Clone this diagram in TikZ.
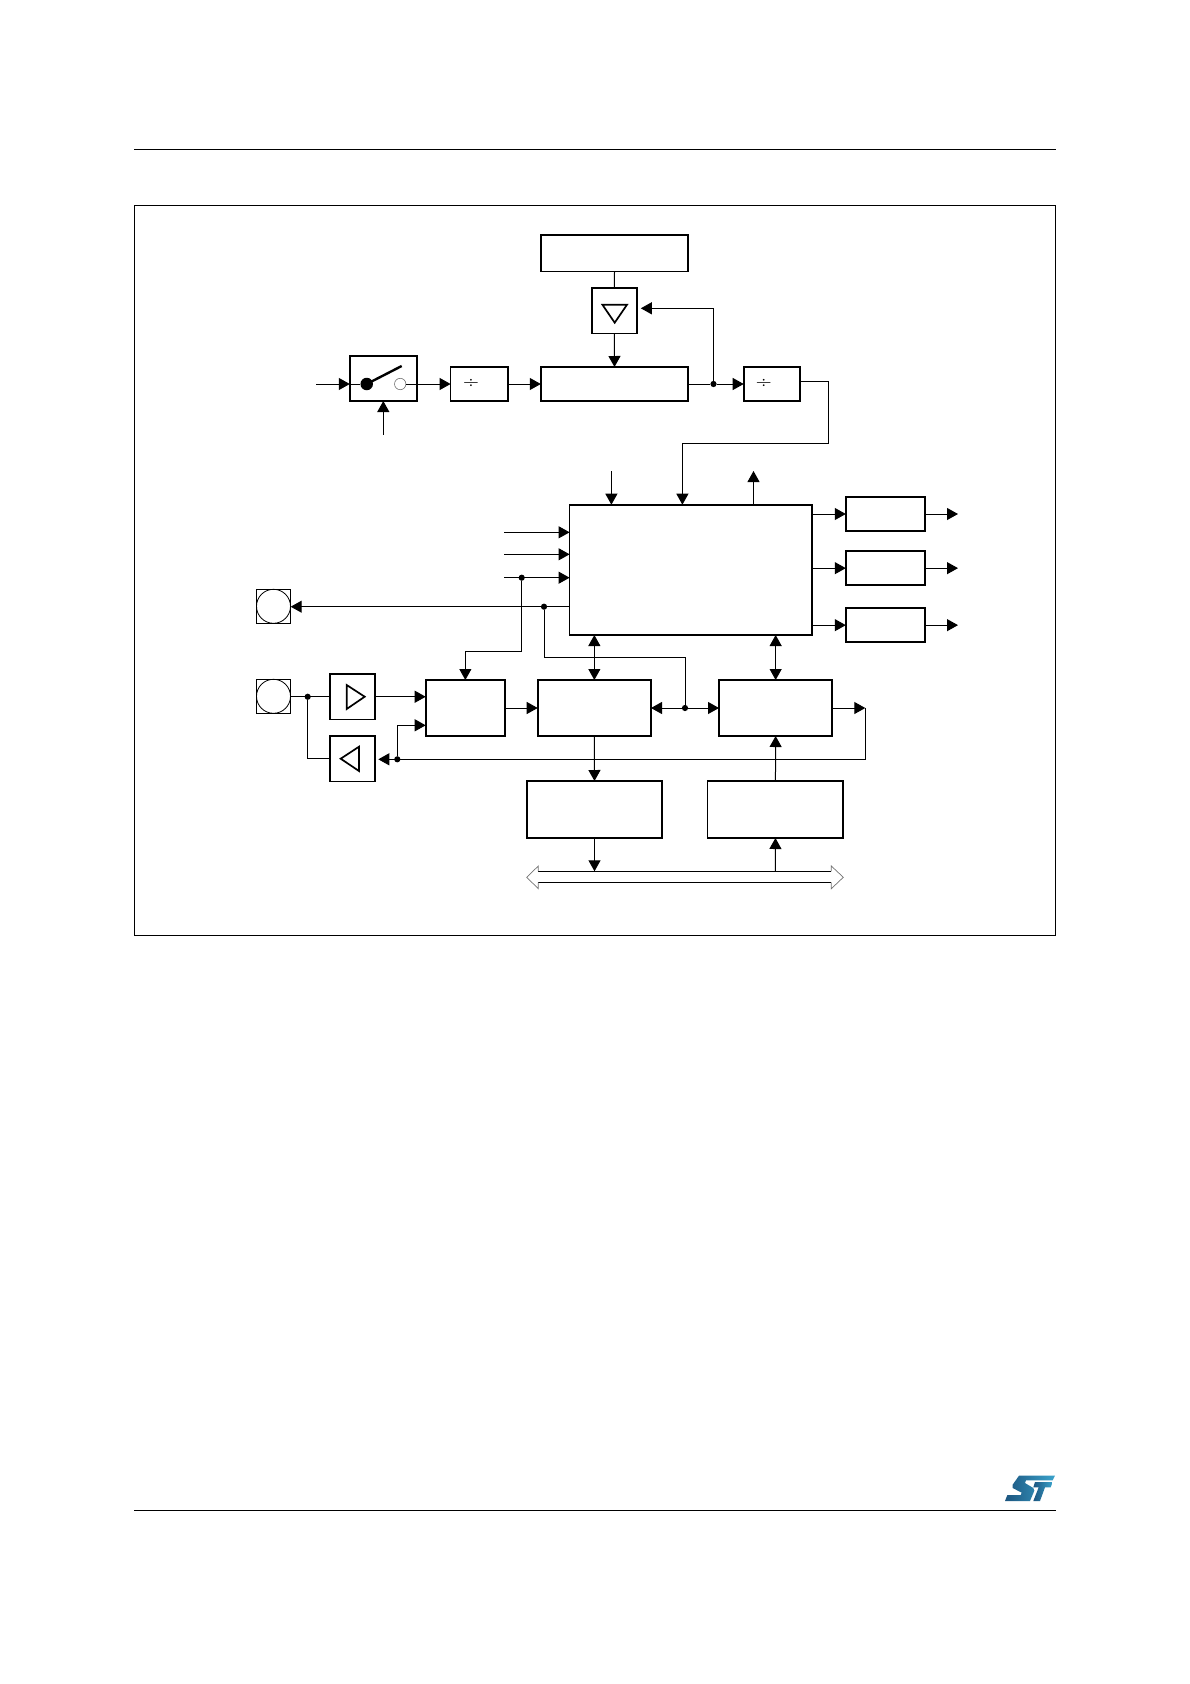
\documentclass[tikz,border=0pt]{standalone}
\usetikzlibrary{arrows.meta,calc}
\definecolor{stdark}{HTML}{1C557F}
\definecolor{stlight}{HTML}{3BA3CC}
\tikzset{
  blockbox/.style={draw=black,line width=1.7pt,inner sep=0pt,outer sep=0pt,rectangle},
  padbox/.style={draw=black,line width=0.9pt,inner sep=0pt,outer sep=0pt,rectangle},
  padring/.style={draw=black,line width=0.8pt,inner sep=0pt,outer sep=0pt,circle,minimum size=34pt},
  wire/.style={line width=1pt,draw=black},
  arr/.style={wire,-{Triangle[length=11pt,width=12pt]}},
  darr/.style={wire,{Triangle[length=11pt,width=12pt]}-{Triangle[length=11pt,width=12pt]}},
  jdot/.style={circle,fill=black,inner sep=0pt,outer sep=0pt,minimum size=6.2pt},
  ampglyph/.style={draw=black,line width=1.7pt,line join=miter},
  divsign/.style={inner sep=0pt,font=\fontsize{22}{22}\selectfont},
  rulel/.style={draw=black,line width=0.9pt},
  frameb/.style={draw=black,line width=0.9pt},
  sbig/.style={circle,fill=black,inner sep=0pt,outer sep=0pt,minimum size=12.5pt},
  sopen/.style={circle,draw=black!55,line width=0.6pt,inner sep=0pt,outer sep=0pt,minimum size=11.4pt}
}
\newcommand\rbox[6]{\node[#1,minimum width={(#5-#3)*1pt},minimum height={(#6-#4)*1pt}] (#2) at ({(#3+#5)/2},{(#4+#6)/2}) {};}
\begin{document}
\begin{tikzpicture}[x=1pt,y=-1pt]
\useasboundingbox (0,0) rectangle (1190,1684);
% page rules and frame
\draw[rulel] (134,149.5) -- (1056,149.5);
\draw[rulel] (134,1510.5) -- (1056,1510.5);
\draw[frameb] (134.5,205.5) rectangle (1055.5,935.5);
% logo
\begin{scope}[shift={(1000,1470)},x=0.3333pt,y=-0.3333pt]
\shade[left color=stdark,right color=stlight] (57,17)--(165,17)--(158,31)--(78,31)--(75,39)--(100,54)--(103,62)--(90,93)--(15,93)--(22,75)--(62,75)--(65,68)--(38,54)--(38,44)--cycle;
\shade[left color=stdark,right color=stlight] (105,36)--(158,36)--(152,52)--(135,52)--(120,93)--(100,93)--(116,52)--(100,52)--cycle;
\end{scope}
% blocks
\rbox{blockbox}{top}{540.8}{235}{688.2}{271.5}
\rbox{blockbox}{regamp}{591.8}{288}{637}{333.5}
\rbox{blockbox}{pll}{540.8}{367}{688.2}{401}
\rbox{blockbox}{sw}{349.8}{356}{417}{401}
\rbox{blockbox}{diva}{450.6}{367}{508}{401}
\rbox{blockbox}{divb}{743.7}{367}{800}{401}
\rbox{blockbox}{main}{569.6}{504.7}{812.3}{635}
\rbox{blockbox}{ra}{845.8}{497}{924.8}{531}
\rbox{blockbox}{rb}{845.8}{551}{924.8}{585.3}
\rbox{blockbox}{rc}{845.8}{608}{924.8}{642.3}
\rbox{blockbox}{ampa}{329.7}{674}{375.3}{719.5}
\rbox{blockbox}{ampb}{329.7}{736}{375.3}{781.5}
\rbox{blockbox}{A}{425.7}{680}{505}{736}
\rbox{blockbox}{B}{537.7}{680}{651}{736}
\rbox{blockbox}{C}{719}{680}{832.3}{736}
\rbox{blockbox}{D}{526.7}{781}{662.3}{838}
\rbox{blockbox}{E}{707.6}{781}{843.3}{838}
\rbox{padbox}{pada}{256.3}{589.3}{290.7}{623.3}
\rbox{padbox}{padb}{256.3}{679.3}{290.7}{713.3}
\node[padring] (ringa) at (pada) {};
\node[padring] (ringb) at (padb) {};
% glyphs
\draw[ampglyph] (602.4,304.7) -- (627,304.7) -- (614.7,322.7) -- cycle;
\draw[ampglyph] (346.7,685) -- (364.7,696.7) -- (346.7,709) -- cycle;
\draw[ampglyph] (359,746.7) -- (340.7,758.7) -- (359,771) -- cycle;
\node[divsign] (dsa) at (471,384) {÷};
\node[divsign] (dsb) at (763.7,384) {÷};
% switch
\node[sbig] (swin) at (366.7,384) {};
\node[sopen] (swout) at (400.2,384) {};
\coordinate (lever) at (401.7,366);
\draw[line width=2.4pt] (swin.center) -- (lever);
% free ends
\coordinate (inS) at (316,384);
\coordinate (inSc) at (383.3,434.7);
\coordinate (inM) at (611.4,471);
\coordinate (outM) at (753.5,471);
\coordinate (ia) at (504,532.3);
\coordinate (ib) at (504,554.3);
\coordinate (ic) at (504,577.7);
\coordinate (oa) at (958,514);
\coordinate (ob) at (958,568.15);
\coordinate (oc) at (958,625.15);
% junctions
\node[jdot] (j1) at (713.5,384) {};
\node[jdot] (j2) at (521.7,577.7) {};
\node[jdot] (j3) at (544,606.7) {};
\node[jdot] (j4) at (307.7,696.75) {};
\node[jdot] (j5) at (685,708) {};
\node[jdot] (j6) at (397.3,759.3) {};
% bus
\coordinate (busL) at (594.7,871.3);
\coordinate (busR) at (775.3,871.3);
\draw[wire] (538.3,871.3) -- (831.3,871.3);
\draw[wire] (538.3,882.3) -- (831.3,882.3);
\draw[line width=0.7pt,draw=black!55] (538.3,871.3) -- (538.3,866) -- (526.7,877.3) -- (538.3,888.7) -- (538.3,882.3);
\draw[line width=0.7pt,draw=black!55] (831.3,871.3) -- (831.3,866) -- (843.3,877.3) -- (831.3,888.7) -- (831.3,882.3);
% top connectors
\draw[wire] (top.south) -- (regamp.north);
\draw[arr] (regamp.south) -- (pll.north);
\draw[arr] (inS) -- (inS -| sw.west);
\draw[wire] (sw.west |- swin) -- (swin);
\draw[arr] (inSc) -- (inSc |- sw.south);
\draw[arr] (swout.east) -- (diva.west);
\draw[arr] (diva.east) -- (pll.west);
\draw[wire] (pll.east) -- (j1);
\draw[arr] (j1) -- (divb.west);
\coordinate (fb) at (640.8,308.3);
\draw[arr] (j1) |- (fb);
\coordinate (dv1) at (800,381.3);
\draw[arr] (dv1) -- (828.6,381.3) -- (828.6,443.3) -- (682.4,443.3) -- (682.4,504.7);
\draw[arr] (inM) -- (inM |- main.north);
\draw[arr] (outM |- main.north) -- (outM);
% main inputs
\draw[arr] (ia) -- (ia -| main.west);
\draw[arr] (ib) -- (ib -| main.west);
\draw[arr] (ic) -- (ic -| main.west);
\draw[arr] (main.west |- j3) -- (pada.east |- j3);
\draw[arr] (j2) -- (521.7,651.3) -- (A.north |- 0,651.3) -- (A.north);
\draw[wire] (j3) -- (544,657.3) -- (685,657.3) -- (j5);
% main outputs
\draw[arr] (main.east |- ra.west) -- (ra.west);
\draw[arr] (main.east |- rb.west) -- (rb.west);
\draw[arr] (main.east |- rc.west) -- (rc.west);
\draw[arr] (ra.east) -- (oa);
\draw[arr] (rb.east) -- (ob);
\draw[arr] (rc.east) -- (oc);
% lower connectors
\draw[darr] (main.south -| B.north) -- (B.north);
\draw[darr] (main.south -| C.north) -- (C.north);
\draw[wire] (padb.east |- j4) -- (ampa.west |- j4);
\draw[wire] (j4) |- (ampb.west);
\draw[arr] (ampa.east) -- (A.west |- ampa.east);
\draw[arr] (A.east) -- (B.west);
\draw[arr] (j5) -- (B.east);
\draw[arr] (j5) -- (C.west);
\coordinate (ret) at (865.3,708);
\draw[arr] (C.east) -- (ret);
\coordinate (tipamp) at (378.3,759.3);
\draw[arr] (ret) -- (865.3,759.3) -- (tipamp);
\coordinate (ainb) at (A.west |- 0,725.3);
\draw[arr] (j6) |- (ainb);
\draw[arr] (B.south) -- (D.north);
\draw[arr] (E.north) -- (C.south);
\draw[arr] (D.south) -- (D.south |- busL);
\draw[arr] (busR) -- (E.south);
\end{tikzpicture}
\end{document}
